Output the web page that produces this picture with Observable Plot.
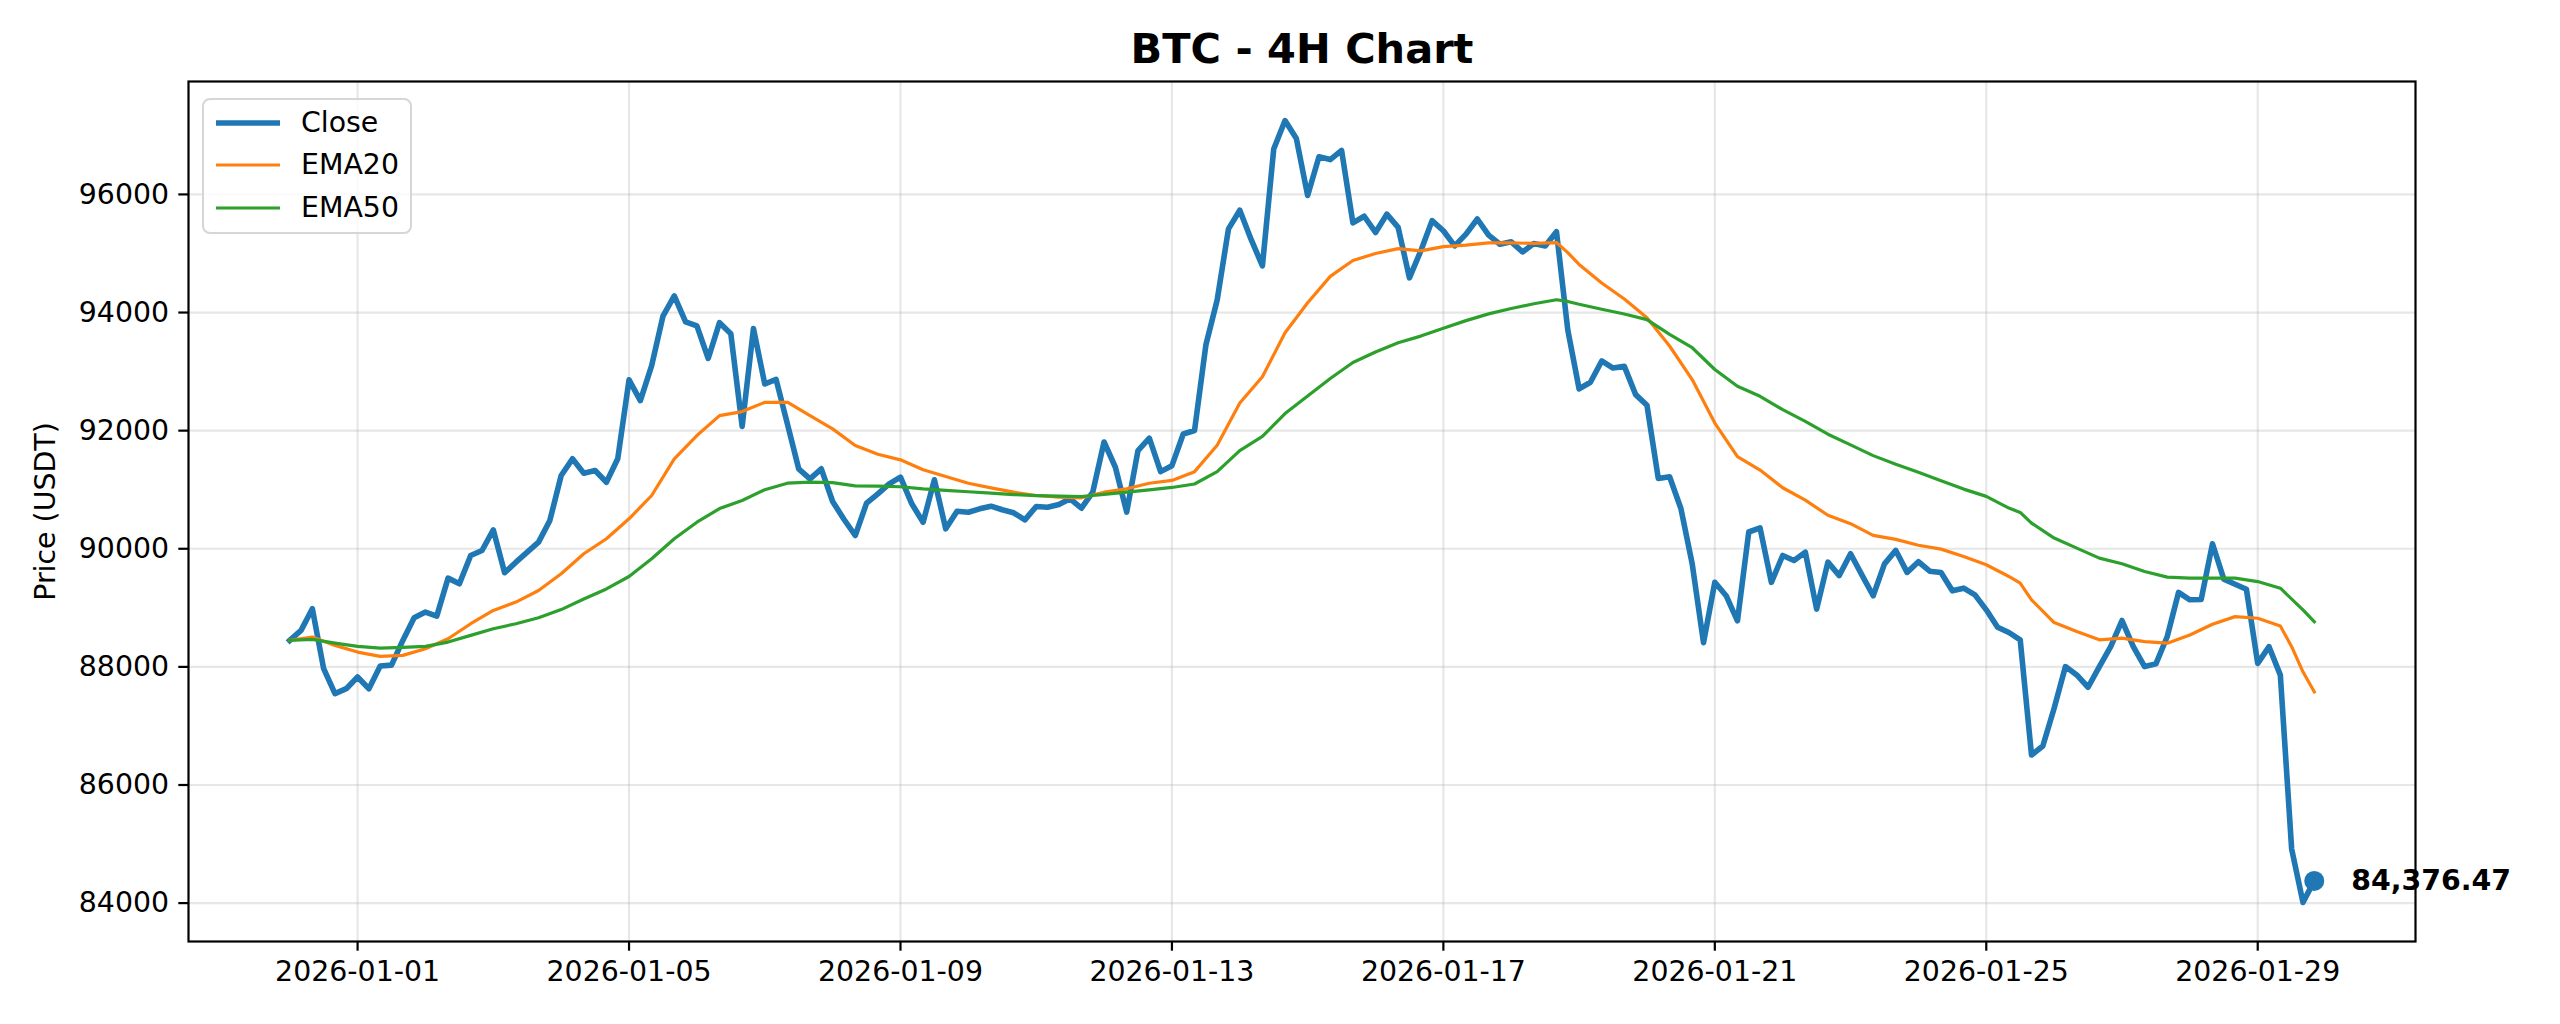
<!DOCTYPE html>
<html>
<head>
<meta charset="utf-8">
<script src="https://cdn.jsdelivr.net/npm/d3@7"></script>
<script src="https://cdn.jsdelivr.net/npm/@observablehq/plot@0.6"></script>
<style>
  html, body { margin: 0; padding: 0; background: white; }
  #wrap { position: relative; width: 2560px; height: 1024px; font-family: "DejaVu Sans", sans-serif; }
  #legend { position: absolute; left: 202px; top: 98px; width: 206px; height: 132px;
            border: 2px solid #d6d6d6; border-radius: 8px; background: rgba(255,255,255,0.8); }
  .lrow { position: absolute; left: 0; height: 0; }
  .lrow svg { position: absolute; left: 12px; top: -8px; }
  .lrow span { position: absolute; left: 97px; top: -17px; font-size: 28.4px; line-height: 34px; white-space: nowrap; color: #000; }
</style>
</head>
<body>
<div id="wrap"><div id="legend"></div></div>
<script>
// ---- data ----
const chartTitle = "BTC - 4H Chart";
const yLabel = "Price (USDT)";
const seriesNames = ["Close", "EMA20", "EMA50"];
const seriesColors = ["#1f77b4", "#ff7f0e", "#2ca02c"];
const startTime = "2025-12-31T00:00:00Z";   // first 4H candle
const stepHours = 4;

const closeVals = [
  88448, 88618, 88985, 87970, 87547, 87631, 87828, 87631, 88014, 88030,
  88448, 88832, 88928, 88860, 89503, 89408, 89887, 89971, 90320, 89594,
  89773, 89942, 90112, 90480, 91240, 91523, 91280, 91325, 91127, 91523,
  92860, 92509, 93101, 93939, 94282, 93840, 93773, 93222, 93829, 93641,
  92071, 93730, 92790, 92868, 92115, 91354, 91184, 91354, 90800, 90500,
  90225, 90772, 90931, 91100, 91212, 90761, 90450, 91168, 90338, 90636,
  90619, 90676, 90721, 90660, 90609, 90490, 90716, 90704, 90750, 90846,
  90687, 90960, 91808, 91380, 90621, 91663, 91872, 91306, 91407, 91943,
  92003, 93450, 94213, 95416, 95732, 95238, 94791, 96768, 97250, 96947,
  95982, 96637, 96590, 96745, 95517, 95630, 95356, 95665, 95442, 94587,
  95043, 95556, 95385, 95128, 95328, 95584, 95311, 95157, 95197, 95026,
  95168, 95128, 95368, 93704, 92707, 92820, 93180, 93060, 93088, 92610,
  92430, 91191, 91220, 90681, 89745, 88411, 89432, 89205, 88780, 90284,
  90352, 89432, 89886, 89801, 89943, 88979, 89773, 89546, 89915, 89557,
  89205, 89745, 89972, 89600, 89780, 89620, 89599, 89288, 89333, 89220,
  88966, 88672, 88582, 88458, 86508, 86661, 87299, 88005, 87864, 87655,
  88005, 88345, 88785, 88345, 88005, 88051, 88514, 89260, 89136, 89140,
  90085, 89485, 89400, 89315, 88059, 88342, 87861, 84917, 84012, 84376.47
];

const ema20At = [0,2,4,6,8,10,12,14,16,18,20,22,24,26,28,30,32,34,36,38,40,42,44,46,48,50,52,54,56,58,60,62,64,66,68,70,72,74,76,78,80,82,84,86,88,90,92,94,96,98,100,102,104,106,108,110,112,113,114,116,118,120,122,124,126,128,130,132,134,136,138,140,142,144,146,148,150,152,153,154,156,158,160,162,164,166,168,170,172,174,176,177,178,179];
const ema20 = [
  88448, 88505, 88364, 88251, 88178, 88195, 88308, 88477, 88731, 88956,
  89097, 89294, 89577, 89915, 90170, 90507, 90902, 91523, 91917, 92255,
  92323, 92480, 92481, 92255, 92030, 91748, 91600, 91506, 91337, 91223,
  91110, 91032, 90958, 90902, 90873, 90863, 90958, 91015, 91109, 91157,
  91306, 91753, 92468, 92914, 93659, 94165, 94612, 94880, 95000, 95083,
  95043, 95117, 95140, 95180, 95180, 95170, 95185, 95014, 94815, 94501,
  94228, 93910, 93433, 92865, 92128, 91560, 91333, 91033, 90823, 90567,
  90425, 90227, 90159, 90060, 89994, 89870, 89729, 89531, 89418, 89136,
  88751, 88599, 88458, 88486, 88429, 88401, 88540, 88721, 88851, 88823,
  88693, 88342, 87917, 87578
];

const ema50At = [0,2,4,6,8,10,12,14,16,18,20,22,24,26,28,30,32,34,36,38,40,42,44,46,48,50,52,54,56,58,60,62,64,66,68,70,72,74,76,78,80,82,84,86,88,90,92,94,96,98,100,102,104,106,108,110,112,113,114,116,118,120,122,124,126,128,130,132,134,136,138,140,142,144,146,148,150,152,153,154,156,158,160,162,164,166,168,170,172,174,176,178,179];
const ema50 = [
  88448, 88465, 88403, 88347, 88319, 88330, 88347, 88420, 88533, 88646,
  88731, 88832, 88970, 89150, 89320, 89530, 89830, 90170, 90450, 90680,
  90817, 91000, 91110, 91127, 91120, 91066, 91060, 91050, 91015, 90990,
  90965, 90941, 90918, 90900, 90890, 90885, 90920, 90960, 90996, 91038,
  91097, 91306, 91663, 91902, 92289, 92587, 92884, 93153, 93331, 93487,
  93601, 93732, 93863, 93977, 94068, 94148, 94217, 94188, 94140, 94055,
  93975, 93880, 93631, 93404, 93035, 92752, 92582, 92355, 92156, 91940,
  91759, 91577, 91430, 91294, 91150, 91010, 90887, 90689, 90616, 90435,
  90181, 90011, 89842, 89746, 89616, 89520, 89503, 89502, 89502, 89445,
  89332, 88964, 88766
];

const xTickLabels = ["2026-01-01", "2026-01-05", "2026-01-09", "2026-01-13", "2026-01-17", "2026-01-21", "2026-01-25", "2026-01-29"];
const yTickVals = [84000, 86000, 88000, 90000, 92000, 94000, 96000];

// ---- build ----
const t0 = new Date(startTime);
const times = closeVals.map((_, i) => d3.utcHour.offset(t0, stepHours * i));
const closeData = closeVals.map((v, i) => ({t: times[i], v}));
const ema20Data = ema20At.map((k, j) => ({t: times[k], v: ema20[j]}));
const ema50Data = ema50At.map((k, j) => ({t: times[k], v: ema50[j]}));
const last = closeData[closeData.length - 1];
const xTicks = xTickLabels.map(s => new Date(s + "T00:00:00Z"));

const allY = closeVals.concat(ema20, ema50);
const yMin = d3.min(allY), yMax = d3.max(allY), yPad = (yMax - yMin) * 0.05;
const tMin = +times[0], tMax = +times[times.length - 1], tPad = (tMax - tMin) * 0.05;

const gridStyle = {stroke: "#b0b0b0", strokeOpacity: 0.3, strokeWidth: 2.2};

const chart = Plot.plot({
  width: 2560,
  height: 1024,
  marginTop: 81,
  marginBottom: 83,
  marginLeft: 188,
  marginRight: 145,
  x: {type: "utc", domain: [new Date(tMin - tPad), new Date(tMax + tPad)]},
  y: {domain: [yMin - yPad, yMax + yPad]},
  style: {fontFamily: "DejaVu Sans, sans-serif", background: "white", color: "black", overflow: "visible"},
  marks: [
    Plot.gridX(xTicks, gridStyle),
    Plot.gridY(yTickVals, gridStyle),
    Plot.lineY(closeData, {x: "t", y: "v", stroke: seriesColors[0], strokeWidth: 5.6, strokeLinejoin: "round", strokeLinecap: "square"}),
    Plot.lineY(ema20Data, {x: "t", y: "v", stroke: seriesColors[1], strokeWidth: 3.2, strokeLinejoin: "round", strokeLinecap: "square"}),
    Plot.lineY(ema50Data, {x: "t", y: "v", stroke: seriesColors[2], strokeWidth: 3.2, strokeLinejoin: "round", strokeLinecap: "square"}),
    Plot.dot([last], {x: "t", y: "v", r: 10, fill: seriesColors[0], stroke: "none"}),
    Plot.text([last], {x: "t", y: "v", text: d => d3.format(",.2f")(d.v), dx: 37, textAnchor: "start", fontWeight: "bold", fontSize: 28.4, fill: "black"}),
    Plot.frame({stroke: "black", strokeWidth: 2.2}),
    Plot.axisX(xTicks, {tickFormat: d3.utcFormat("%Y-%m-%d"), tickSize: 9.7, tickPadding: 9.7, fontSize: 28.4, strokeWidth: 2.2, label: null}),
    Plot.axisY(yTickVals, {tickFormat: d3.format("d"), tickSize: 9.7, tickPadding: 9.7, fontSize: 28.4, strokeWidth: 2.2, label: null}),
    Plot.text([yLabel], {frameAnchor: "left", textAnchor: "middle", lineAnchor: "middle", rotate: -90, dx: -143, fontSize: 28.4, fill: "black"}),
    Plot.text([chartTitle], {frameAnchor: "top", textAnchor: "middle", lineAnchor: "middle", dy: -32, fontSize: 41.5, fontWeight: "bold", fill: "black"})
  ]
});
document.getElementById("wrap").prepend(chart);

// legend
const legend = document.getElementById("legend");
const rowTops = [23, 65, 108];
const lineWidths = [5.6, 3.2, 3.2];
seriesNames.forEach((name, i) => {
  const row = document.createElement("div");
  row.className = "lrow";
  row.style.top = rowTops[i] + "px";
  row.innerHTML = `<svg width="64" height="16"><line x1="0" x2="64" y1="8" y2="8" stroke="${seriesColors[i]}" stroke-width="${lineWidths[i]}"/></svg><span>${name}</span>`;
  legend.appendChild(row);
});
</script>
</body>
</html>
